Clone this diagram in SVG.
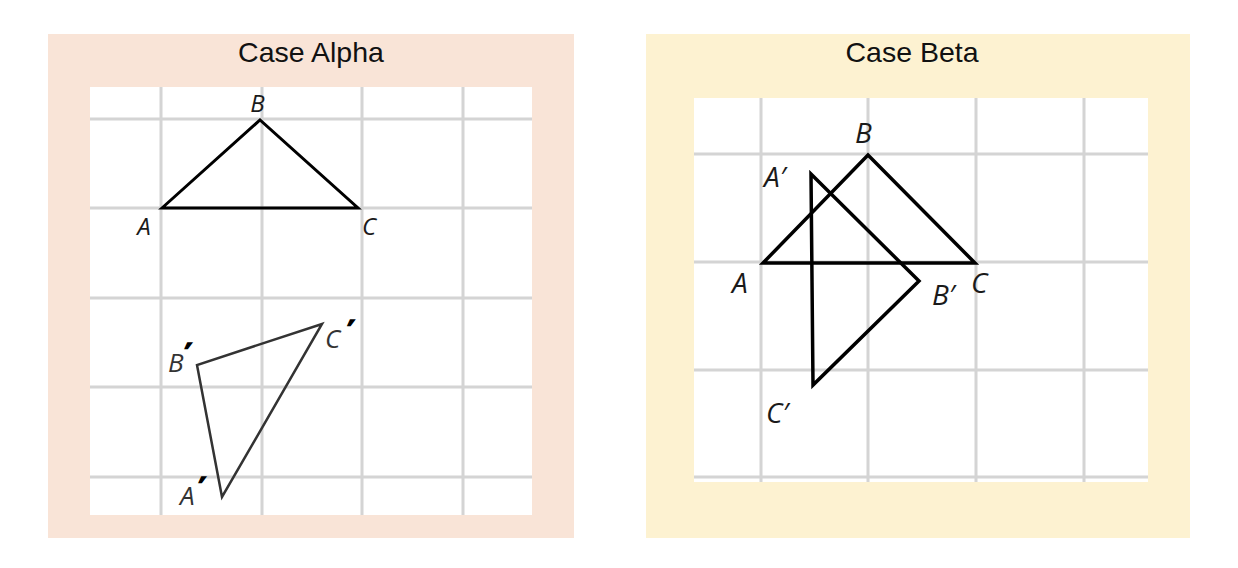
<svg xmlns="http://www.w3.org/2000/svg" width="1238" height="568" viewBox="0 0 1238 568">
<style>
.title{font-family:"Liberation Sans",Arial,sans-serif;font-size:28.5px;fill:#111;text-anchor:middle}
.grid{stroke:#d4d4d4;stroke-width:3;fill:none}
.tri{fill:none;stroke:#000;stroke-width:3;stroke-linejoin:miter}
.tri2{fill:none;stroke:#333;stroke-width:2.5;stroke-linejoin:miter}
.triR{fill:none;stroke:#000;stroke-width:3.5;stroke-linejoin:miter}
.lbl{font-family:"Open Sans","DejaVu Sans",sans-serif;font-style:italic;fill:#1a1a1a}
.s21{font-size:24px}
.s24{font-size:26px;fill:#333}
.s25{font-size:28px}
.pr{font-family:"DejaVu Sans",sans-serif;font-style:normal;font-weight:bold;font-size:30px;fill:#000;stroke:#000;stroke-width:1.3}
</style>
<rect width="1238" height="568" fill="#fff"/>
<g id="panel-alpha">
<rect x="48" y="34" width="526" height="504" fill="#F9E4D7"/>
<text class="title" x="311" y="62">Case Alpha</text>
<rect x="90" y="87" width="442" height="428" fill="#fff"/>
<g class="grid">
<line x1="90" y1="119" x2="532" y2="119"/>
<line x1="90" y1="208" x2="532" y2="208"/>
<line x1="90" y1="298" x2="532" y2="298"/>
<line x1="90" y1="387" x2="532" y2="387"/>
<line x1="90" y1="477" x2="532" y2="477"/>
<line x1="161" y1="87" x2="161" y2="515"/>
<line x1="262" y1="87" x2="262" y2="515"/>
<line x1="362" y1="87" x2="362" y2="515"/>
<line x1="463" y1="87" x2="463" y2="515"/>
</g>
<g id="alpha-ABC">
<polygon class="tri" points="162,208 260,120 358,208"/>
<text class="lbl s21" x="257.5" y="112" text-anchor="middle">B</text>
<text class="lbl s21" x="144" y="235" text-anchor="middle">A</text>
<text class="lbl s21" x="369" y="235" text-anchor="middle">C</text>
</g>
<g id="alpha-A1B1C1">
<polygon class="tri2" points="222,497 197,365 322,324"/>
<text class="lbl s24" x="168" y="372">B<tspan class="pr" dx="1" dy="-7">′</tspan></text>
<text class="lbl s24" x="325" y="348">C<tspan class="pr" dx="7" dy="-6">′</tspan></text>
<text class="lbl s24" x="180" y="505">A<tspan class="pr" dx="4" dy="-6">′</tspan></text>
</g>
</g>
<g id="panel-beta">
<rect x="646" y="34" width="544" height="504" fill="#FDF2D1"/>
<text class="title" x="912" y="62">Case Beta</text>
<rect x="694" y="98" width="454" height="384" fill="#fff"/>
<g class="grid">
<line x1="694" y1="154" x2="1148" y2="154"/>
<line x1="694" y1="262" x2="1148" y2="262"/>
<line x1="694" y1="370" x2="1148" y2="370"/>
<line x1="694" y1="477" x2="1148" y2="477"/>
<line x1="761" y1="98" x2="761" y2="482"/>
<line x1="868" y1="98" x2="868" y2="482"/>
<line x1="976" y1="98" x2="976" y2="482"/>
<line x1="1084" y1="98" x2="1084" y2="482"/>
</g>
<g id="beta-ABC">
<polygon class="triR" points="763,263 868,155 975,263"/>
<text class="lbl s25" x="855" y="143">B</text>
<text class="lbl s25" x="732" y="293">A</text>
<text class="lbl s25" x="971" y="293">C</text>
</g>
<g id="beta-A1B1C1">
<polygon class="triR" points="811,174 919,281 813,385"/>
<text class="lbl s25" x="764" y="187">A′</text>
<text class="lbl s25" x="932" y="305">B′</text>
<text class="lbl s25" x="766" y="423">C′</text>
</g>
</g>
</svg>
